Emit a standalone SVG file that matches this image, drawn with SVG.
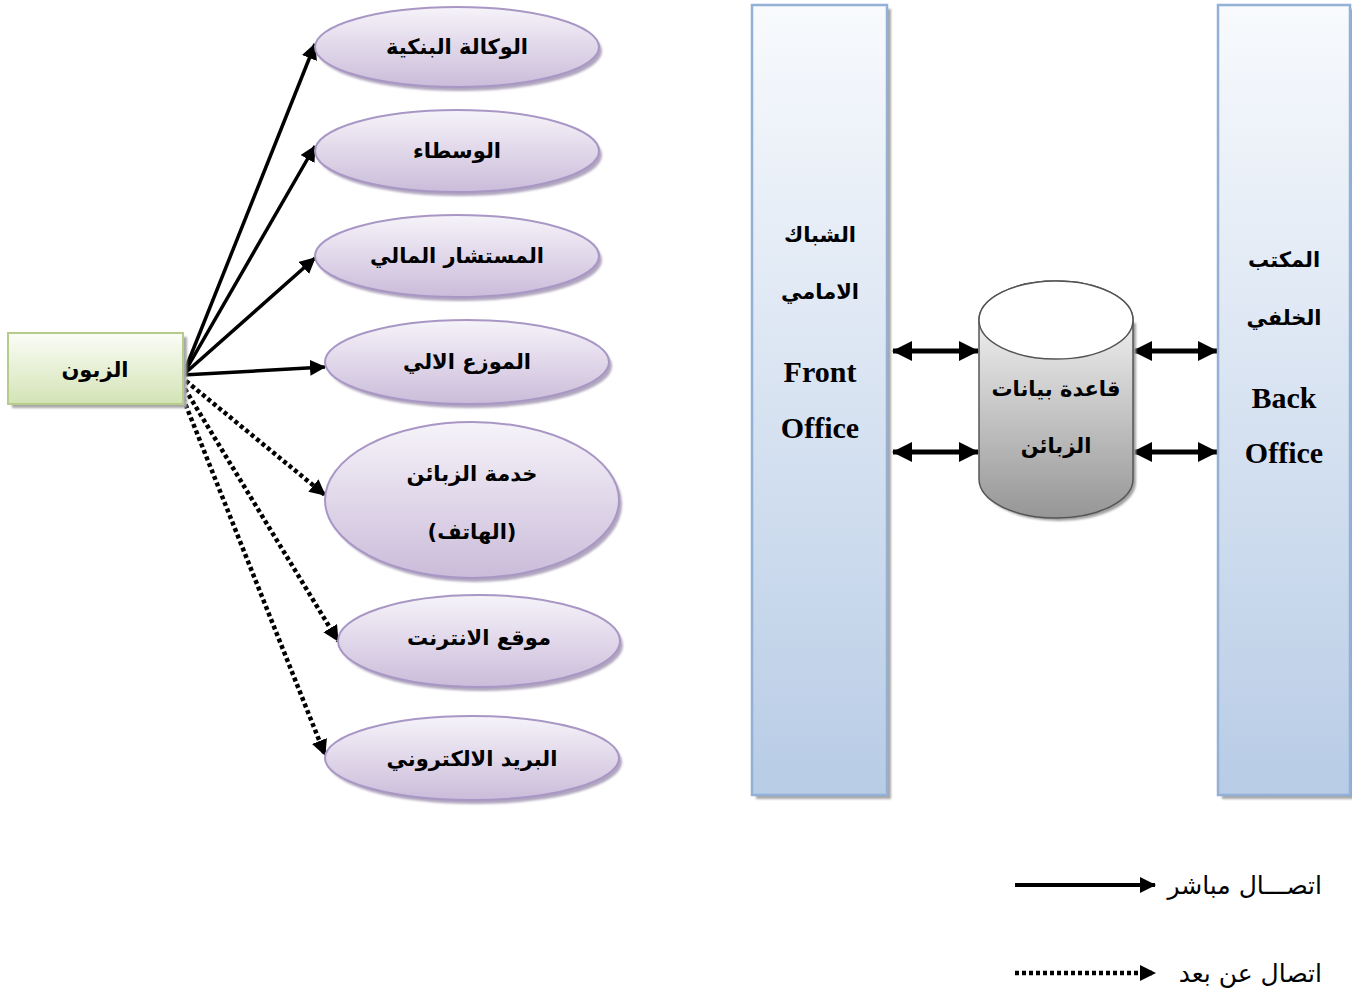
<svg xmlns="http://www.w3.org/2000/svg" width="1352" height="998" viewBox="0 0 1352 998">
  <defs>
    <linearGradient id="gPurple" x1="0" y1="0" x2="0" y2="1">
      <stop offset="0" stop-color="#f6f3f9"/>
      <stop offset="1" stop-color="#cbbcda"/>
    </linearGradient>
    <linearGradient id="gGreen" x1="0" y1="0" x2="0" y2="1">
      <stop offset="0" stop-color="#fbfdf7"/>
      <stop offset="1" stop-color="#d3e3b5"/>
    </linearGradient>
    <linearGradient id="gBlue" x1="0" y1="0" x2="0" y2="1">
      <stop offset="0" stop-color="#f8fafd"/>
      <stop offset="1" stop-color="#b8cce6"/>
    </linearGradient>
    <linearGradient id="gGray" x1="0" y1="0" x2="0" y2="1">
      <stop offset="0" stop-color="#ffffff"/>
      <stop offset="1" stop-color="#969696"/>
    </linearGradient>
    <filter id="soft" x="-10%" y="-10%" width="120%" height="130%">
      <feGaussianBlur stdDeviation="1.2"/>
    </filter>
    <marker id="head" viewBox="0 0 16 16" refX="15" refY="8" markerWidth="16" markerHeight="16" markerUnits="userSpaceOnUse" orient="auto">
      <path d="M0,0 L16,8 L0,16 Z" fill="#000"/>
    </marker>
    <marker id="bighead" viewBox="0 0 20 20" refX="19" refY="10" markerWidth="20" markerHeight="20" markerUnits="userSpaceOnUse" orient="auto-start-reverse">
      <path d="M0,0 L20,10 L0,20 Z" fill="#000"/>
    </marker>
  </defs>
  <style>
    .ell { fill: url(#gPurple); stroke: #a897c5; stroke-width: 2; }
    .ellsh { fill: #9d8fae; opacity: 0.8; filter: url(#soft); }
    .col { fill: url(#gBlue); stroke: #93b1d6; stroke-width: 2.5; }
    .colsh { fill: #a7a7a7; filter: url(#soft); }
    .ar { font-family: "DejaVu Sans", sans-serif; font-weight: bold; font-size: 21px; fill: #000; text-anchor: middle; }
    .lat { font-family: "Liberation Serif", serif; font-weight: bold; font-size: 30px; fill: #000; text-anchor: middle; }
    .leg { font-family: "DejaVu Sans", sans-serif; font-size: 25px; fill: #000; text-anchor: end; }
    .solid { stroke: #000; stroke-width: 3.5; fill: none; marker-end: url(#head); }
    .dot { stroke: #000; stroke-width: 4.5; stroke-dasharray: 4 3; fill: none; marker-end: url(#head); }
    .dbl { stroke: #000; stroke-width: 5; fill: none; marker-start: url(#bighead); marker-end: url(#bighead); }
  </style>

  <rect width="1352" height="998" fill="#ffffff"/>

  <!-- connectors -->
  <g id="connectors">
    <line class="solid" x1="183" y1="375" x2="315" y2="44"/>
    <line class="solid" x1="183" y1="375" x2="315" y2="146"/>
    <line class="solid" x1="183" y1="375" x2="315" y2="258"/>
    <line class="solid" x1="183" y1="375" x2="325" y2="367"/>
    <line class="dot" x1="186" y1="381" x2="325" y2="495"/>
    <line class="dot" x1="185" y1="389" x2="338" y2="641"/>
    <line class="dot" x1="183" y1="398" x2="325" y2="755"/>
    <line class="dbl" x1="893" y1="351" x2="978" y2="351"/>
    <line class="dbl" x1="893" y1="452" x2="978" y2="452"/>
    <line class="dbl" x1="1133" y1="351" x2="1217" y2="351"/>
    <line class="dbl" x1="1133" y1="452" x2="1217" y2="452"/>
  </g>

  <!-- customer -->
  <g id="customer">
    <rect x="12" y="337" width="175" height="71" fill="#a9a9a9" filter="url(#soft)"/>
    <rect x="8" y="333" width="175" height="71" fill="url(#gGreen)" stroke="#b5cc8a" stroke-width="2"/>
    <text class="ar" x="95" y="377">الزبون</text>
  </g>

  <g id="bank-agency">
    <ellipse class="ellsh" cx="460" cy="51" rx="142" ry="40"/>
    <ellipse class="ell" cx="457" cy="47" rx="142" ry="40"/>
    <text class="ar" x="457" y="54">الوكالة البنكية</text>
  </g>
  <g id="brokers">
    <ellipse class="ellsh" cx="460" cy="155" rx="142" ry="41"/>
    <ellipse class="ell" cx="457" cy="151" rx="142" ry="41"/>
    <text class="ar" x="457" y="158">الوسطاء</text>
  </g>
  <g id="advisor">
    <ellipse class="ellsh" cx="460" cy="260" rx="142" ry="41"/>
    <ellipse class="ell" cx="457" cy="256" rx="142" ry="41"/>
    <text class="ar" x="457" y="263">المستشار المالي</text>
  </g>
  <g id="atm">
    <ellipse class="ellsh" cx="470" cy="366" rx="142" ry="42"/>
    <ellipse class="ell" cx="467" cy="362" rx="142" ry="42"/>
    <text class="ar" x="467" y="369">الموزع الالي</text>
  </g>
  <g id="call-center">
    <ellipse class="ellsh" cx="475" cy="504" rx="147" ry="78"/>
    <ellipse class="ell" cx="472" cy="500" rx="147" ry="78"/>
    <text class="ar" x="472" y="481">خدمة الزبائن</text>
    <text class="ar" x="472" y="539">(الهاتف)</text>
  </g>
  <g id="website">
    <ellipse class="ellsh" cx="482" cy="645" rx="141" ry="46"/>
    <ellipse class="ell" cx="479" cy="641" rx="141" ry="46"/>
    <text class="ar" x="479" y="645">موقع الانترنت</text>
  </g>
  <g id="email">
    <ellipse class="ellsh" cx="475" cy="762" rx="147" ry="42"/>
    <ellipse class="ell" cx="472" cy="758" rx="147" ry="42"/>
    <text class="ar" x="472" y="766">البريد الالكتروني</text>
  </g>

  <g id="front-office">
    <rect class="colsh" x="756" y="9" width="135" height="790"/>
    <rect class="col" x="752" y="5" width="135" height="790"/>
    <text class="ar" x="820" y="242">الشباك</text>
    <text class="ar" x="820" y="299">الامامي</text>
    <text class="lat" x="820" y="382">Front</text>
    <text class="lat" x="820" y="438">Office</text>
  </g>

  <g id="back-office">
    <rect class="colsh" x="1222" y="9" width="132" height="790"/>
    <rect class="col" x="1218" y="5" width="132" height="790"/>
    <text class="ar" x="1284" y="267">المكتب</text>
    <text class="ar" x="1284" y="325">الخلفي</text>
    <text class="lat" x="1284" y="408">Back</text>
    <text class="lat" x="1284" y="463">Office</text>
  </g>

  <g id="database">
    <path d="M982,323 L982,482 A77,39 0 0 0 1136,482 L1136,323 Z" fill="#a0a0a0" filter="url(#soft)"/>
    <path d="M979,320 L979,479 A77,39 0 0 0 1133,479 L1133,320 A77,39 0 0 0 979,320 Z" fill="url(#gGray)" stroke="#555" stroke-width="1.5"/>
    <ellipse cx="1056" cy="320" rx="77" ry="39" fill="#ffffff" stroke="#555" stroke-width="1.5"/>
    <text class="ar" x="1056" y="396">قاعدة بيانات</text>
    <text class="ar" x="1056" y="453">الزبائن</text>
  </g>

  <g id="legend">
    <line x1="1015" y1="885" x2="1155" y2="885" stroke="#000" stroke-width="4" marker-end="url(#head)"/>
    <text class="leg" x="1322" y="894">اتصـــال مباشر</text>
    <line x1="1015" y1="973" x2="1155" y2="973" stroke="#000" stroke-width="4.5" stroke-dasharray="4 3" marker-end="url(#head)"/>
    <text class="leg" x="1322" y="982">اتصال عن بعد</text>
  </g>
</svg>
